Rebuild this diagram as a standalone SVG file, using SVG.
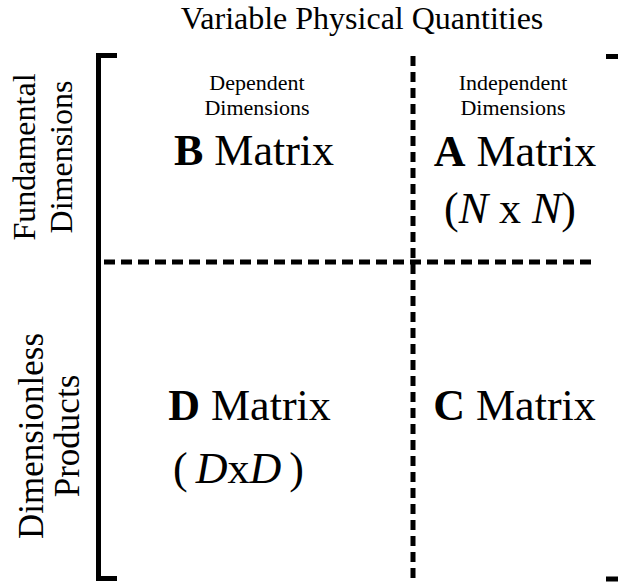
<svg xmlns="http://www.w3.org/2000/svg" width="618" height="582" viewBox="0 0 618 582">
<style>
text{font-family:"Liberation Serif","Times New Roman",serif;fill:#000;text-anchor:middle}
.title{font-size:32px}
.sub{font-size:22px}
.mat{font-size:44px}
.side{font-size:32px}
.side2{font-size:35px}
.b{font-weight:bold}
.i{font-style:italic}
.frame{fill:none;stroke:#000;stroke-width:5}
.dash{fill:none;stroke:#000;stroke-width:5}
</style>
<rect width="618" height="582" fill="#fff"/>
<g id="frame">
<path class="frame" d="M117,55.5 H98.5 V578.5 H117"/>
<path class="frame" d="M606,56.5 H622 V579 H606"/>
</g>
<g id="connectors">
<line class="dash" x1="413" y1="56" x2="413" y2="582" stroke-dasharray="10 6"/>
<line class="dash" x1="104" y1="262" x2="592" y2="262" stroke-dasharray="11 6"/>
</g>
<g id="title"><text class="title" x="362" y="29">Variable Physical Quantities</text></g>
<g id="row-fundamental">
<text class="side" transform="translate(0,157) rotate(-90)"><tspan x="0" y="35">Fundamental</tspan><tspan x="0" y="72">Dimensions</tspan></text>
</g>
<g id="row-dimensionless">
<text class="side2" transform="translate(0,436) rotate(-90)"><tspan x="0" y="43">Dimensionless</tspan><tspan x="0" y="79">Products</tspan></text>
</g>
<g id="b-matrix">
<text class="sub" x="257" y="90"><tspan x="257" y="90">Dependent</tspan><tspan x="257" y="115">Dimensions</tspan></text>
<text class="mat" x="254" y="165"><tspan class="b">B</tspan> Matrix</text>
</g>
<g id="a-matrix">
<text class="sub" x="513" y="90"><tspan x="513" y="90">Independent</tspan><tspan x="513" y="115">Dimensions</tspan></text>
<text class="mat" x="515" y="166"><tspan class="b">A</tspan> Matrix</text>
<text class="mat" x="510" y="223">(<tspan class="i">N</tspan> x <tspan class="i">N</tspan>)</text>
</g>
<g id="d-matrix">
<text class="mat" x="249.5" y="420"><tspan class="b">D</tspan> Matrix</text>
<text class="mat" x="238.5" y="483">(<tspan class="i" dx="8">D</tspan>x<tspan class="i">D</tspan><tspan dx="8">)</tspan></text>
</g>
<g id="c-matrix">
<text class="mat" x="514.5" y="420"><tspan class="b">C</tspan> Matrix</text>
</g>
</svg>
